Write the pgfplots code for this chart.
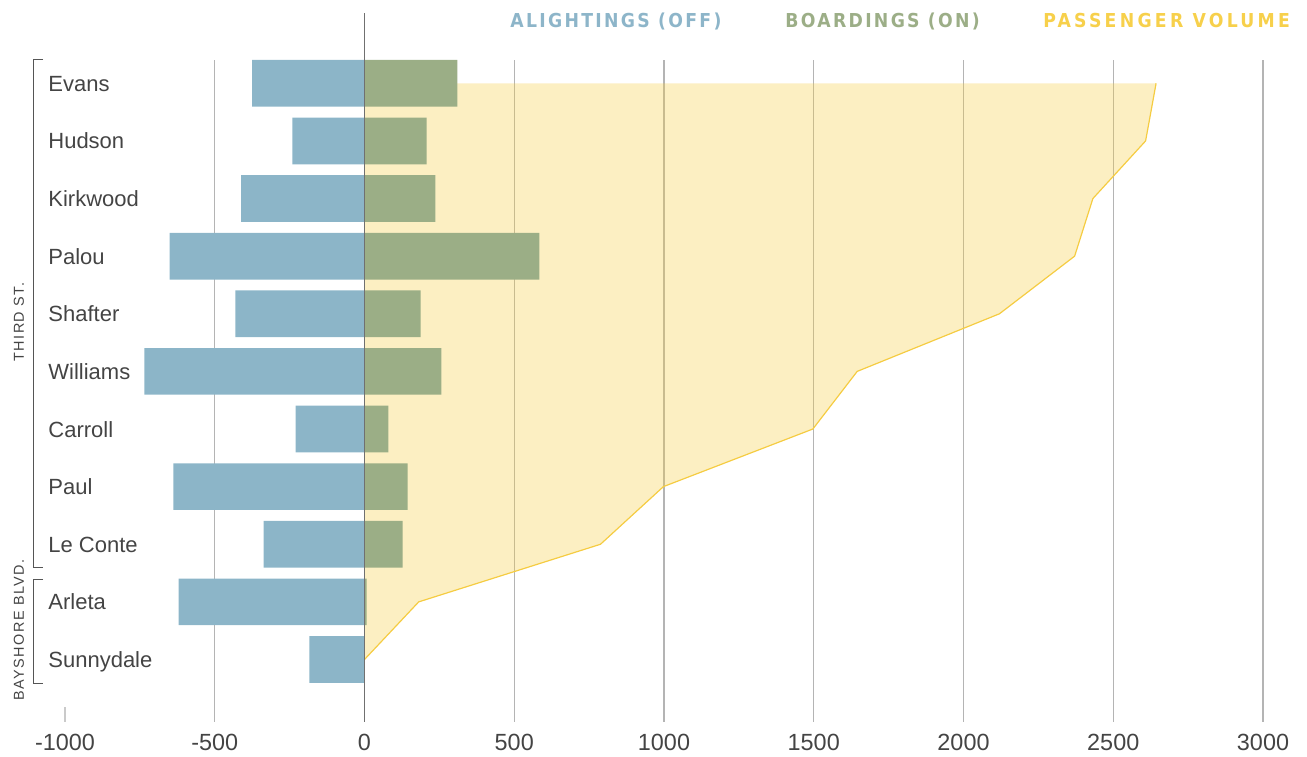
\documentclass[border=0pt]{standalone}
\usepackage{pgfplots}
\pgfplotsset{compat=1.18}
\usepackage{fontspec}
\setmainfont{Liberation Sans}
\newfontfamily\hdrfont[LetterSpace=12,BoldFont={DejaVu Sans Condensed Bold}]{DejaVu Sans Condensed}
\newfontfamily\hdrfontb[LetterSpace=17,BoldFont={DejaVu Sans Condensed Bold}]{DejaVu Sans Condensed}
\newfontfamily\grpfont[LetterSpace=10]{Liberation Sans}
\definecolor{offblue}{HTML}{8CB5C8}
\definecolor{ongreen}{HTML}{9BAE86}
\definecolor{volyel}{HTML}{F5CC42}
\definecolor{hdrblue}{HTML}{8DB5C9}
\definecolor{hdrgreen}{HTML}{9CAE87}
\definecolor{hdryel}{HTML}{F7D04B}
\definecolor{lbl}{HTML}{444444}
\definecolor{gridc}{HTML}{B4B4B4}
\definecolor{zeroc}{HTML}{707070}
\definecolor{brk}{HTML}{555555}
\begin{document}
\begin{tikzpicture}
\path[use as bounding box] (0,0) rectangle (653.5pt,378pt);
\begin{axis}[
  at={(32.5pt,17pt)}, anchor=south west,
  scale only axis, width=599pt, height=331pt,
  xmin=-1000, xmax=3000, ymin=-0.4045, ymax=11.085, y dir=reverse,
  axis line style={draw=none}, major tick length=0pt,
  xtick={-1000,-500,0,500,1000,1500,2000,2500,3000},
  xticklabels={-1000,-500,0,500,1000,1500,2000,2500,3000},
  ytick={0,1,2,3,4,5,6,7,8,9,10},
  yticklabels={Evans,Hudson,Kirkwood,Palou,Shafter,Williams,Carroll,Paul,Le Conte,Arleta,Sunnydale},
  xticklabel style={font=\fontsize{11.7}{14}\selectfont, text=lbl, anchor=base, inner sep=0pt, yshift=-14pt},
  yticklabel style={font=\fontsize{11}{13}\selectfont, text=lbl, anchor=base west, inner sep=0pt, xshift=-8.5pt, yshift=-4pt},
  clip=false,
]
% grid
\draw[gridc, line width=0.55pt] (axis cs:-500,-0.4045) -- (axis cs:-500,11.085);
\draw[gridc, line width=0.55pt] (axis cs:500,-0.4045) -- (axis cs:500,11.085);
\draw[gridc, line width=0.55pt] (axis cs:1000,-0.4045) -- (axis cs:1000,11.085);
\draw[gridc, line width=0.55pt] (axis cs:1500,-0.4045) -- (axis cs:1500,11.085);
\draw[gridc, line width=0.55pt] (axis cs:2000,-0.4045) -- (axis cs:2000,11.085);
\draw[gridc, line width=0.55pt] (axis cs:2500,-0.4045) -- (axis cs:2500,11.085);
\draw[gridc, line width=0.55pt] (axis cs:3000,-0.4045) -- (axis cs:3000,11.085);
\draw[gridc!70, line width=0.55pt] (axis cs:-1000,10.83) -- (axis cs:-1000,11.085);
% passenger volume area
\addplot[draw=none, fill=volyel, fill opacity=0.32] coordinates {
  (0,0) (2643,0) (2608,1) (2432,2) (2371,3) (2120,4) (1645,5) (1497,6) (998,7) (788,8) (181,9) (0,10)};
\addplot[volyel, line width=0.6pt] coordinates {
  (2643,0) (2608,1) (2432,2) (2371,3) (2120,4) (1645,5) (1497,6) (998,7) (788,8) (181,9) (0,10)};
% alightings
\addplot[xbar, bar width=0.81, bar shift=0pt, fill=offblue, draw=none] coordinates {
  (-375,0) (-241,1) (-412,2) (-651,3) (-431,4) (-735,5) (-230,6) (-638,7) (-337,8) (-621,9) (-184,10)};
% boardings
\addplot[xbar, bar width=0.81, bar shift=0pt, fill=ongreen, draw=none] coordinates {
  (310,0) (207,1) (237,2) (584,3) (187,4) (257,5) (80,6) (144,7) (127,8) (7,9)};
% zero line
\draw[zeroc, line width=0.85pt] (axis cs:0,-1.22) -- (axis cs:0,11.085);
\end{axis}
% group brackets
\draw[brk, line width=0.5pt] (21.5pt,348pt) -- (16.5pt,348pt) -- (16.5pt,94.5pt) -- (21.5pt,94.5pt);
\draw[brk, line width=0.5pt] (21.5pt,88.5pt) -- (16.5pt,88.5pt) -- (16.5pt,36.5pt) -- (21.5pt,36.5pt);
\node[rotate=90, text=lbl, font=\grpfont\fontsize{7.2}{8}\selectfont, inner sep=0pt] at (9.5pt,217pt) {THIRD ST.};
\node[rotate=90, text=lbl, font=\grpfont\fontsize{7.2}{8}\selectfont, inner sep=0pt] at (9.5pt,63pt) {BAYSHORE BLVD.};
% legend headers
\node[anchor=base west, inner sep=0pt, text=hdrblue, font=\hdrfont\bfseries\fontsize{9.6}{11}\selectfont] at (255pt,364pt) {ALIGHTINGS (OFF)};
\node[anchor=base west, inner sep=0pt, text=hdrgreen, font=\hdrfont\bfseries\fontsize{9.6}{11}\selectfont] at (392.5pt,364pt) {BOARDINGS (ON)};
\node[anchor=base west, inner sep=0pt, text=hdryel, font=\hdrfontb\bfseries\fontsize{9.6}{11}\selectfont] at (521.5pt,364pt) {PASSENGER VOLUME};
\end{tikzpicture}
\end{document}
